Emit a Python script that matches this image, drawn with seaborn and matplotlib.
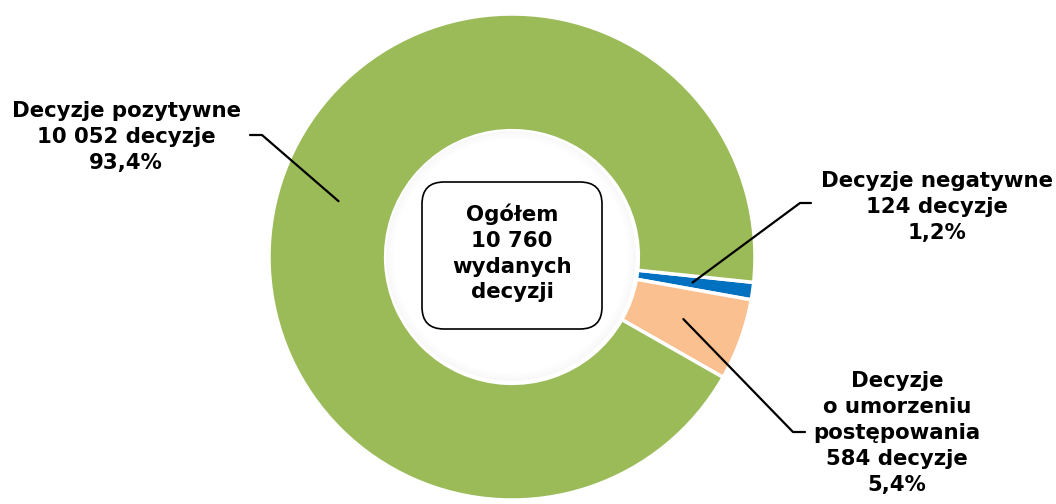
import numpy as np
import matplotlib
matplotlib.use('Agg')
import matplotlib.pyplot as plt
import seaborn as sns
from matplotlib.patches import FancyBboxPatch, Circle

sns.set_style("white")
plt.rcParams['font.family'] = ['DejaVu Sans']
plt.rcParams['text.color'] = 'black'

# data
categories = ['Decyzje negatywne', 'Decyzje o umorzeniu postępowania', 'Decyzje pozytywne']
counts = [124, 584, 10052]
shares = [1.2, 5.4, 93.4]
colors = ['#0070C0', '#FAC090', '#9BBB59']
labels = ['Decyzje negatywne\n124 decyzje\n1,2%',
          'Decyzje\no umorzeniu\npostępowania\n584 decyzje\n5,4%',
          'Decyzje pozytywne\n10 052 decyzje\n93,4%']
total_text = 'Ogółem\n10 760\nwydanych\ndecyzji'

W, H = 1056, 504
fig = plt.figure(figsize=(W / 100, H / 100), dpi=100)
ax = fig.add_axes([0, 0, 1, 1])

cx, cy = 512, H - 257
R = 243
ring = 0.48

wedges, _ = ax.pie(counts, colors=colors, startangle=-6, counterclock=False,
                   center=(cx, cy), radius=R,
                   wedgeprops=dict(width=R * ring, edgecolor='white', linewidth=2.5))
ax.set_xlim(0, W)
ax.set_ylim(0, H)
ax.set_aspect('equal')
ax.axis('off')

# soft shadow inside the hole
r_in = R * (1 - ring)
for i in range(8):
    ax.add_patch(Circle((cx - 1, cy + 1), r_in - 2 - i * 1.0, facecolor='none',
                        edgecolor='#000000', alpha=0.018 * (8 - i) / 8, linewidth=1.2, zorder=1))

# centre box
box = FancyBboxPatch((422, H - 329), 180, 147, boxstyle='round,pad=0,rounding_size=22',
                     facecolor='white', edgecolor='black', linewidth=1.2, zorder=3)
ax.add_patch(box)
ax.text(512, H - 253, total_text, ha='center', va='center', fontsize=15.3,
        fontweight='bold', linespacing=1.36, zorder=4)

# labels with leader lines
label_pos = [(937, H - 207), (897, H - 433), (126, H - 137)]
elbows = [[(811, H - 203), (800, H - 203)],
          [(805, H - 432), (793, H - 432)],
          [(250, H - 135), (262, H - 135)]]
for w, lab, pos, elb in zip(wedges, labels, label_pos, elbows):
    ang = np.deg2rad((w.theta1 + w.theta2) / 2)
    ax_pt = (cx + R * 0.75 * np.cos(ang), cy + R * 0.75 * np.sin(ang))
    xs = [elb[0][0], elb[1][0], ax_pt[0]]
    ys = [elb[0][1], elb[1][1], ax_pt[1]]
    ax.plot(xs, ys, color='black', linewidth=1.6, zorder=5)
    ax.text(pos[0], pos[1], lab, ha='center', va='center', fontsize=15.3,
            fontweight='bold', linespacing=1.36, zorder=5)

fig.savefig('out.png', dpi=100, facecolor='white')
